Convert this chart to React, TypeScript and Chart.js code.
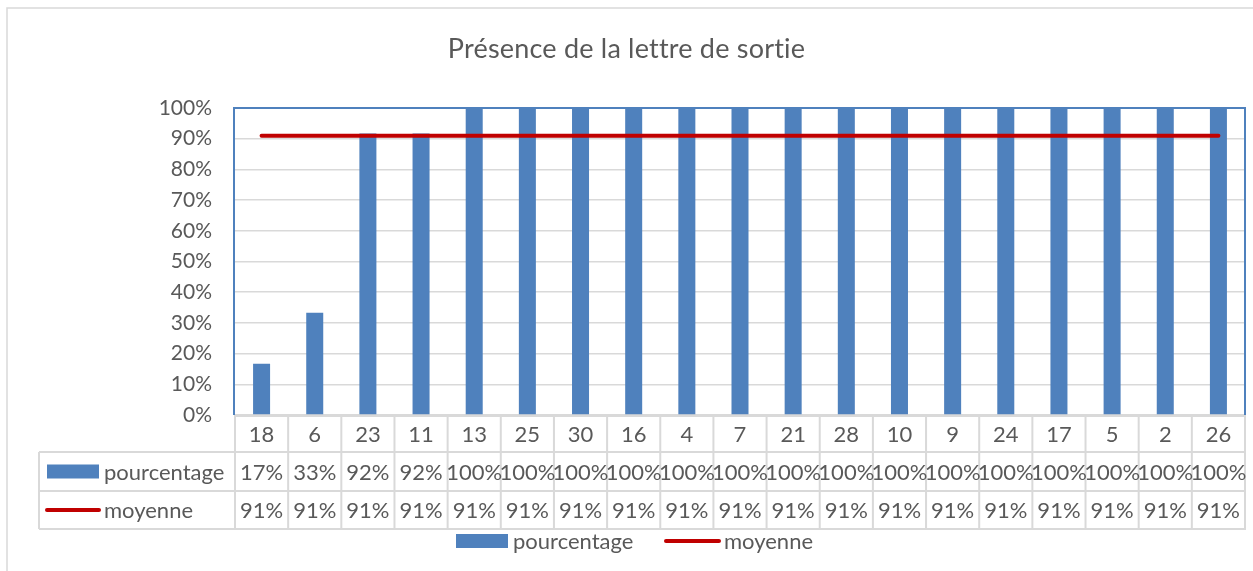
import React, { useEffect, useRef } from "react";
import { Chart, registerables } from "chart.js";

Chart.register(...registerables);

const title = "Présence de la lettre de sortie";
const categories = ["18", "6", "23", "11", "13", "25", "30", "16", "4", "7", "21", "28", "10", "9", "24", "17", "5", "2", "26"];
const pourcentage = [16.7, 33.3, 91.7, 91.7, 100, 100, 100, 100, 100, 100, 100, 100, 100, 100, 100, 100, 100, 100, 100];
const moyenne = [91, 91, 91, 91, 91, 91, 91, 91, 91, 91, 91, 91, 91, 91, 91, 91, 91, 91, 91];
const seriesNames = ["pourcentage", "moyenne"];

const FONT = "Lato";
const TEXT = "#595959";
const GRID = "#d9d9d9";
const BLUE = "#4f81bd";
const RED = "#c00000";

const tablePlugin = {
  id: "excelTable",
  afterDraw(chart: any) {
    const ctx = chart.ctx as CanvasRenderingContext2D;
    const { left, right, top, bottom } = chart.chartArea;
    const xs = chart.scales.x;
    const n = categories.length;
    const colW = (right - left) / n;
    const rowH = [37, 39, 38];
    const y1 = bottom + rowH[0];
    const y2 = y1 + rowH[1];
    const y3 = y2 + rowH[2];
    const headLeft = 39;

    ctx.save();
    // outer chart border
    ctx.strokeStyle = GRID;
    ctx.lineWidth = 1.5;
    ctx.beginPath();
    ctx.moveTo(7, 600);
    ctx.lineTo(7, 8);
    ctx.lineTo(1300, 8);
    ctx.stroke();

    // title
    ctx.fillStyle = TEXT;
    ctx.font = `27px ${FONT}`;
    (ctx as any).letterSpacing = "0.2px";
    ctx.textAlign = "center";
    ctx.textBaseline = "middle";
    ctx.fillText(title, chart.width / 2, 49);
    (ctx as any).letterSpacing = "0px";

    // plot area border
    ctx.strokeStyle = BLUE;
    ctx.lineWidth = 2;
    ctx.beginPath();
    ctx.moveTo(left - 1, bottom);
    ctx.lineTo(left - 1, top);
    ctx.lineTo(right, top);
    ctx.lineTo(right, bottom);
    ctx.stroke();

    // table grid
    ctx.strokeStyle = GRID;
    ctx.lineWidth = 2;
    ctx.beginPath();
    ctx.moveTo(left - 1, bottom + 1);
    ctx.lineTo(right + 1, bottom + 1);
    for (const yy of [y1, y2, y3]) {
      ctx.moveTo(headLeft, yy);
      ctx.lineTo(right + 1, yy);
    }
    for (let i = 0; i <= n; i++) {
      const bx = left + i * colW;
      ctx.moveTo(bx, bottom);
      ctx.lineTo(bx, y3);
    }
    ctx.moveTo(headLeft, y1);
    ctx.lineTo(headLeft, y3);
    ctx.stroke();

    // table texts
    ctx.fillStyle = TEXT;
    ctx.font = `22px ${FONT}`;
    ctx.textAlign = "center";
    ctx.textBaseline = "middle";
    for (let i = 0; i < n; i++) {
      const cx = xs.getPixelForValue(i);
      ctx.fillText(categories[i], cx, (bottom + y1) / 2 + 1);
      ctx.fillText(Math.round(pourcentage[i]) + "%", cx, (y1 + y2) / 2 + 1);
      ctx.fillText(Math.round(moyenne[i]) + "%", cx, (y2 + y3) / 2 + 1);
    }

    // table headers with legend keys
    const r2 = (y1 + y2) / 2;
    const r3 = (y2 + y3) / 2;
    ctx.fillStyle = BLUE;
    ctx.fillRect(47, r2 - 7, 52, 14);
    ctx.strokeStyle = RED;
    ctx.lineWidth = 4;
    ctx.lineCap = "round";
    ctx.beginPath();
    ctx.moveTo(47, r3);
    ctx.lineTo(99, r3);
    ctx.stroke();
    ctx.fillStyle = TEXT;
    ctx.textAlign = "left";
    ctx.fillText(seriesNames[0], 104, r2 + 1);
    ctx.fillText(seriesNames[1], 104, r3 + 1);

    // bottom legend
    const ly = 541;
    ctx.fillStyle = BLUE;
    ctx.fillRect(456, ly - 7, 52, 14);
    ctx.fillStyle = TEXT;
    ctx.fillText(seriesNames[0], 513, ly + 1);
    ctx.strokeStyle = RED;
    ctx.beginPath();
    ctx.moveTo(666, ly);
    ctx.lineTo(719, ly);
    ctx.stroke();
    ctx.fillText(seriesNames[1], 724, ly + 1);
    ctx.restore();
  },
};

export default function App() {
  const ref = useRef<HTMLCanvasElement | null>(null);
  useEffect(() => {
    document.body.style.margin = "0";
    if (!ref.current) return;
    const chart = new Chart(ref.current, {
      type: "bar",
      data: {
        labels: categories,
        datasets: [
          {
            type: "line",
            label: seriesNames[1],
            data: moyenne,
            borderColor: RED,
            backgroundColor: RED,
            borderWidth: 4,
            pointRadius: 0,
            borderCapStyle: "round",
            order: 0,
          } as any,
          {
            type: "bar",
            label: seriesNames[0],
            data: pourcentage,
            backgroundColor: BLUE,
            barPercentage: 0.32,
            categoryPercentage: 1,
            order: 1,
          },
        ],
      },
      options: {
        responsive: false,
        animation: false,
        layout: { padding: { top: 108, bottom: 156, right: 8, left: 0 } },
        plugins: {
          legend: { display: false },
          title: { display: false },
          tooltip: { enabled: false },
        },
        scales: {
          x: { display: false, offset: true, grid: { display: false } },
          y: {
            min: 0,
            max: 100,
            ticks: {
              stepSize: 10,
              padding: 23,
              color: TEXT,
              font: { family: FONT, size: 21 },
              callback: (v: any) => v + "%",
            },
            grid: { color: GRID, lineWidth: 1.5, drawTicks: false },
            border: { display: false },
            afterFit: (s: any) => {
              s.width = 235;
            },
          },
        },
      },
      plugins: [tablePlugin],
    });
    return () => chart.destroy();
  }, []);
  return (
    <div style={{ width: 1253, height: 571 }}>
      <canvas ref={ref} width={1253} height={571} />
    </div>
  );
}
